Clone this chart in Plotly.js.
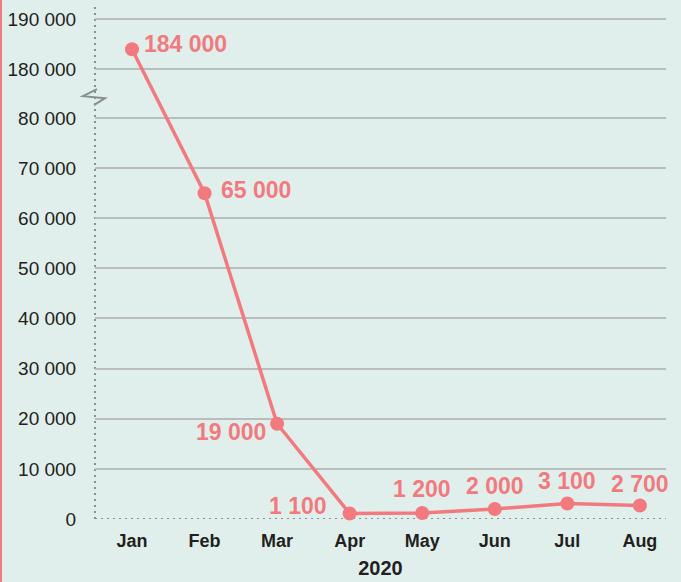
<!DOCTYPE html>
<html>
<head>
<meta charset="utf-8">
<script src="https://cdn.plot.ly/plotly-3.0.1.min.js"></script>
<style>
  html, body { margin: 0; padding: 0; background: #e1efec; }
  #chart { width: 681px; height: 582px; }
  #edge { position: absolute; left: 0; top: 0; width: 2px; height: 582px; background: #f07c80; }
</style>
</head>
<body>
<div id="chart"></div>
<div id="edge"></div>
<script>
// ---- data ----
const months = ['Jan', 'Feb', 'Mar', 'Apr', 'May', 'Jun', 'Jul', 'Aug'];
const values = [184000, 65000, 19000, 1100, 1200, 2000, 3100, 2700];
const valueLabels = ['184 000', '65 000', '19 000', '1 100', '1 200', '2 000', '3 100', '2 700'];
const yTickValues = [0, 10000, 20000, 30000, 40000, 50000, 60000, 70000, 80000, 180000, 190000];
const yTickLabels = ['0', '10 000', '20 000', '30 000', '40 000', '50 000', '60 000', '70 000', '80 000', '180 000', '190 000'];
const yearLabel = '2020';

// broken axis: values from 180 000 upward are drawn just above 80 000
const BREAK_LOW = 80000, BREAK_HIGH = 180000, BREAK_GAP = 90300;
function axisValue(v) { return v >= BREAK_HIGH ? v - BREAK_GAP : v; }

// label placement (styling only)
const labelStyle = [
  {xanchor: 'left',   xshift: 10,  yshift: 5},
  {xanchor: 'left',   xshift: 14,  yshift: 3},
  {xanchor: 'right',  xshift: -9,  yshift: -8},
  {xanchor: 'right',  xshift: -21, yshift: 7},
  {xanchor: 'center', xshift: 0,   yshift: 24},
  {xanchor: 'center', xshift: 0,   yshift: 23},
  {xanchor: 'center', xshift: 0,   yshift: 22},
  {xanchor: 'center', xshift: 0,   yshift: 21}
];

const red = '#f27a7e';
const bg = '#e1efec';
const gridColor = '#b9bebd';
const dotColor = '#8a8f8f';
const fontFam = '"Liberation Sans", Arial, sans-serif';
const xIdx = months.map((m, i) => i);
const yRange = [0, 102540];
const plotH = 582 - 5 - 63;
const plotW = 681 - 95 - 15;
const unitsPerPx = (yRange[1] - yRange[0]) / plotH;

const trace = {
  x: xIdx,
  y: values.map(axisValue),
  type: 'scatter',
  mode: 'lines+markers',
  line: {color: red, width: 3.5},
  marker: {color: red, size: 14},
  cliponaxis: false,
  hoverinfo: 'skip'
};

const annotations = values.map((v, i) => Object.assign({
  x: xIdx[i], y: axisValue(v), xref: 'x', yref: 'y',
  text: valueLabels[i], showarrow: false, yanchor: 'middle',
  font: {family: fontFam, size: 23, color: red, weight: 'bold'}
}, labelStyle[i]));

// axis-break zigzag, drawn in pixels around the left axis
const breakY = (BREAK_LOW + (BREAK_HIGH - BREAK_GAP)) / 2 - 700;
const zz = [[2, 8], [-12, 1], [10, -1], [-1, -8]];
const zzPath = zz.map((p, i) => (i ? 'L' : 'M') + (p[0] / plotW) + ',' + (breakY + p[1] * unitsPerPx)).join(' ');

const shapes = [
  // hide the solid grid line at 0 and replace it by a dotted baseline
  {type: 'line', xref: 'paper', yref: 'y', x0: 0, x1: 1, y0: 0, y1: 0, layer: 'between', line: {color: bg, width: 4}},
  {type: 'line', xref: 'paper', yref: 'y', x0: 0, x1: 1, y0: 0, y1: 0, layer: 'between', line: {color: dotColor, width: 2, dash: '2px,4px'}},
  // dotted left axis
  {type: 'line', xref: 'paper', yref: 'paper', x0: 0, x1: 0, y0: 0, y1: 1, layer: 'between', line: {color: dotColor, width: 2, dash: '2px,4px'}},
  // break mark
  {type: 'path', xref: 'paper', yref: 'y', path: zzPath, layer: 'above', line: {color: dotColor, width: 2}}
];

const layout = {
  width: 681, height: 582,
  margin: {l: 95, r: 15, t: 5, b: 63},
  paper_bgcolor: bg, plot_bgcolor: bg,
  showlegend: false,
  font: {family: fontFam, color: '#231f20'},
  xaxis: {
    range: [-0.51, 7.36],
    tickvals: xIdx, ticktext: months,
    showgrid: false, zeroline: false, showline: false,
    ticks: 'outside', ticklen: 5, tickcolor: 'rgba(0,0,0,0)',
    tickfont: {size: 18, weight: 'bold', color: '#231f20'},
    title: {text: yearLabel, standoff: 11, font: {size: 20, weight: 'bold', color: '#231f20'}}
  },
  yaxis: {
    range: yRange,
    tickvals: yTickValues.map(axisValue), ticktext: yTickLabels,
    showgrid: true, gridcolor: gridColor, gridwidth: 2,
    zeroline: false, showline: false,
    ticks: 'outside', ticklen: 14, tickcolor: 'rgba(0,0,0,0)',
    tickfont: {size: 19, color: '#231f20'}
  },
  shapes: shapes,
  annotations: annotations
};

Plotly.newPlot('chart', [trace], layout, {displayModeBar: false, staticPlot: true});
</script>
</body>
</html>
